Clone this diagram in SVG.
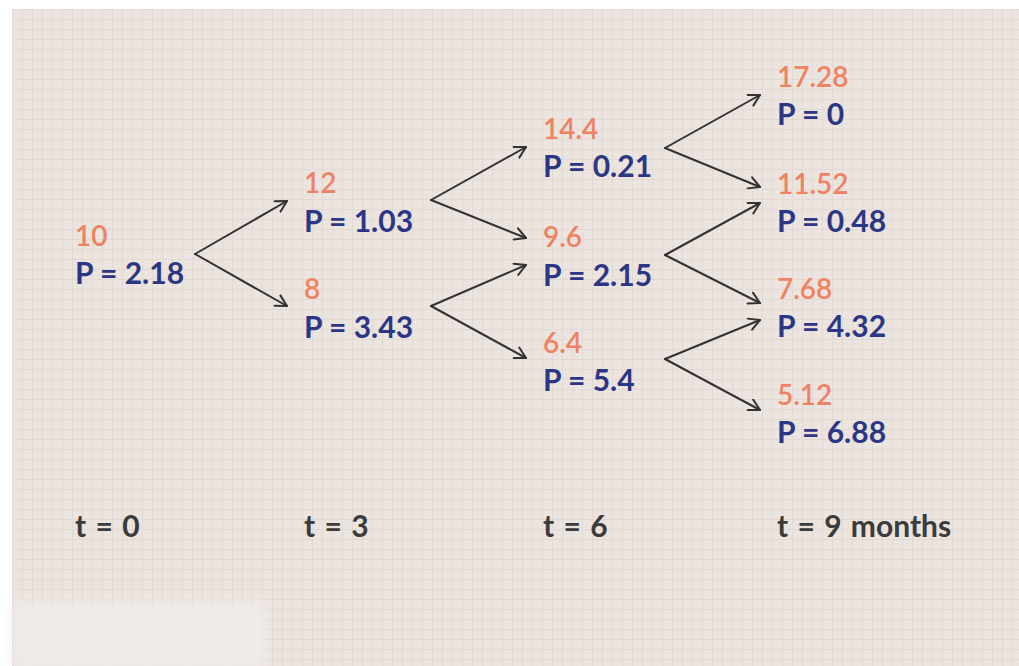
<svg xmlns="http://www.w3.org/2000/svg" width="1019" height="666" viewBox="0 0 1019 666">
  <defs>
    <pattern id="grid" width="10" height="10" patternUnits="userSpaceOnUse" x="12" y="9">
      <rect width="10" height="10" fill="#ece4df"/>
      <path d="M0 0.5H10M0.5 0V10" stroke="#e2d9d4" stroke-width="1" fill="none"/>
    </pattern>
    <filter id="soft" x="-20%" y="-40%" width="140%" height="180%">
      <feGaussianBlur stdDeviation="6"/>
    </filter>
    <marker id="arr" viewBox="0 0 14 14" refX="12" refY="7" markerWidth="14" markerHeight="14" markerUnits="userSpaceOnUse" orient="auto">
      <path d="M1 1L12 7L1 13" fill="none" stroke="#333333" stroke-width="2" stroke-linecap="round" stroke-linejoin="round"/>
    </marker>
  </defs>
  <style>
    .val { font-family: Lato, "Open Sans", sans-serif; font-size: 28px; fill: #ef8262; font-weight: 600; }
    .p { font-family: Lato, "Open Sans", sans-serif; font-size: 30px; fill: #2b3685; font-weight: 700; }
    .t { font-family: Lato, "Open Sans", sans-serif; font-size: 30px; fill: #3b3b3b; font-weight: 700; word-spacing: 2px; }
    .edge { fill: none; stroke: #333333; stroke-width: 2; stroke-linecap: round; marker-end: url(#arr); }
  </style>
  <rect width="1019" height="666" fill="#ffffff"/>
  <rect x="12" y="9" width="1007" height="657" fill="url(#grid)"/>
  <rect x="12" y="600" width="255" height="70" fill="#f2eeea" opacity="0.75" filter="url(#soft)"/>

  <g id="connectors">
    <path class="edge" d="M195 254L287 201"/>
    <path class="edge" d="M195 254L287 306"/>
    <path class="edge" d="M431 200L526 147"/>
    <path class="edge" d="M431 200L526 238"/>
    <path class="edge" d="M431 306L526 265"/>
    <path class="edge" d="M431 306L526 358"/>
    <path class="edge" d="M665 148L760 95"/>
    <path class="edge" d="M665 148L760 187"/>
    <path class="edge" d="M665 255L760 203"/>
    <path class="edge" d="M665 255L760 303"/>
    <path class="edge" d="M665 359L760 320"/>
    <path class="edge" d="M665 359L760 410"/>
  </g>

  <g id="n0"><text class="val" x="75" y="246">10</text><text class="p" x="75" y="284">P = 2.18</text></g>
  <g id="n1u"><text class="val" x="304" y="193">12</text><text class="p" x="304" y="232">P = 1.03</text></g>
  <g id="n1d"><text class="val" x="304" y="299">8</text><text class="p" x="304" y="338">P = 3.43</text></g>
  <g id="n2uu"><text class="val" x="543" y="139">14.4</text><text class="p" x="543" y="177">P = 0.21</text></g>
  <g id="n2ud"><text class="val" x="543" y="247">9.6</text><text class="p" x="543" y="286">P = 2.15</text></g>
  <g id="n2dd"><text class="val" x="543" y="353">6.4</text><text class="p" x="543" y="391">P = 5.4</text></g>
  <g id="n3uuu"><text class="val" x="777" y="87">17.28</text><text class="p" x="777" y="125">P = 0</text></g>
  <g id="n3uud"><text class="val" x="777" y="194">11.52</text><text class="p" x="777" y="232">P = 0.48</text></g>
  <g id="n3udd"><text class="val" x="777" y="299">7.68</text><text class="p" x="777" y="337">P = 4.32</text></g>
  <g id="n3ddd"><text class="val" x="777" y="405">5.12</text><text class="p" x="777" y="443">P = 6.88</text></g>

  <g id="timeline">
    <text class="t" x="75" y="537">t = 0</text>
    <text class="t" x="304" y="537">t = 3</text>
    <text class="t" x="543" y="537">t = 6</text>
    <text class="t" x="777" y="537">t = 9 months</text>
  </g>
</svg>
